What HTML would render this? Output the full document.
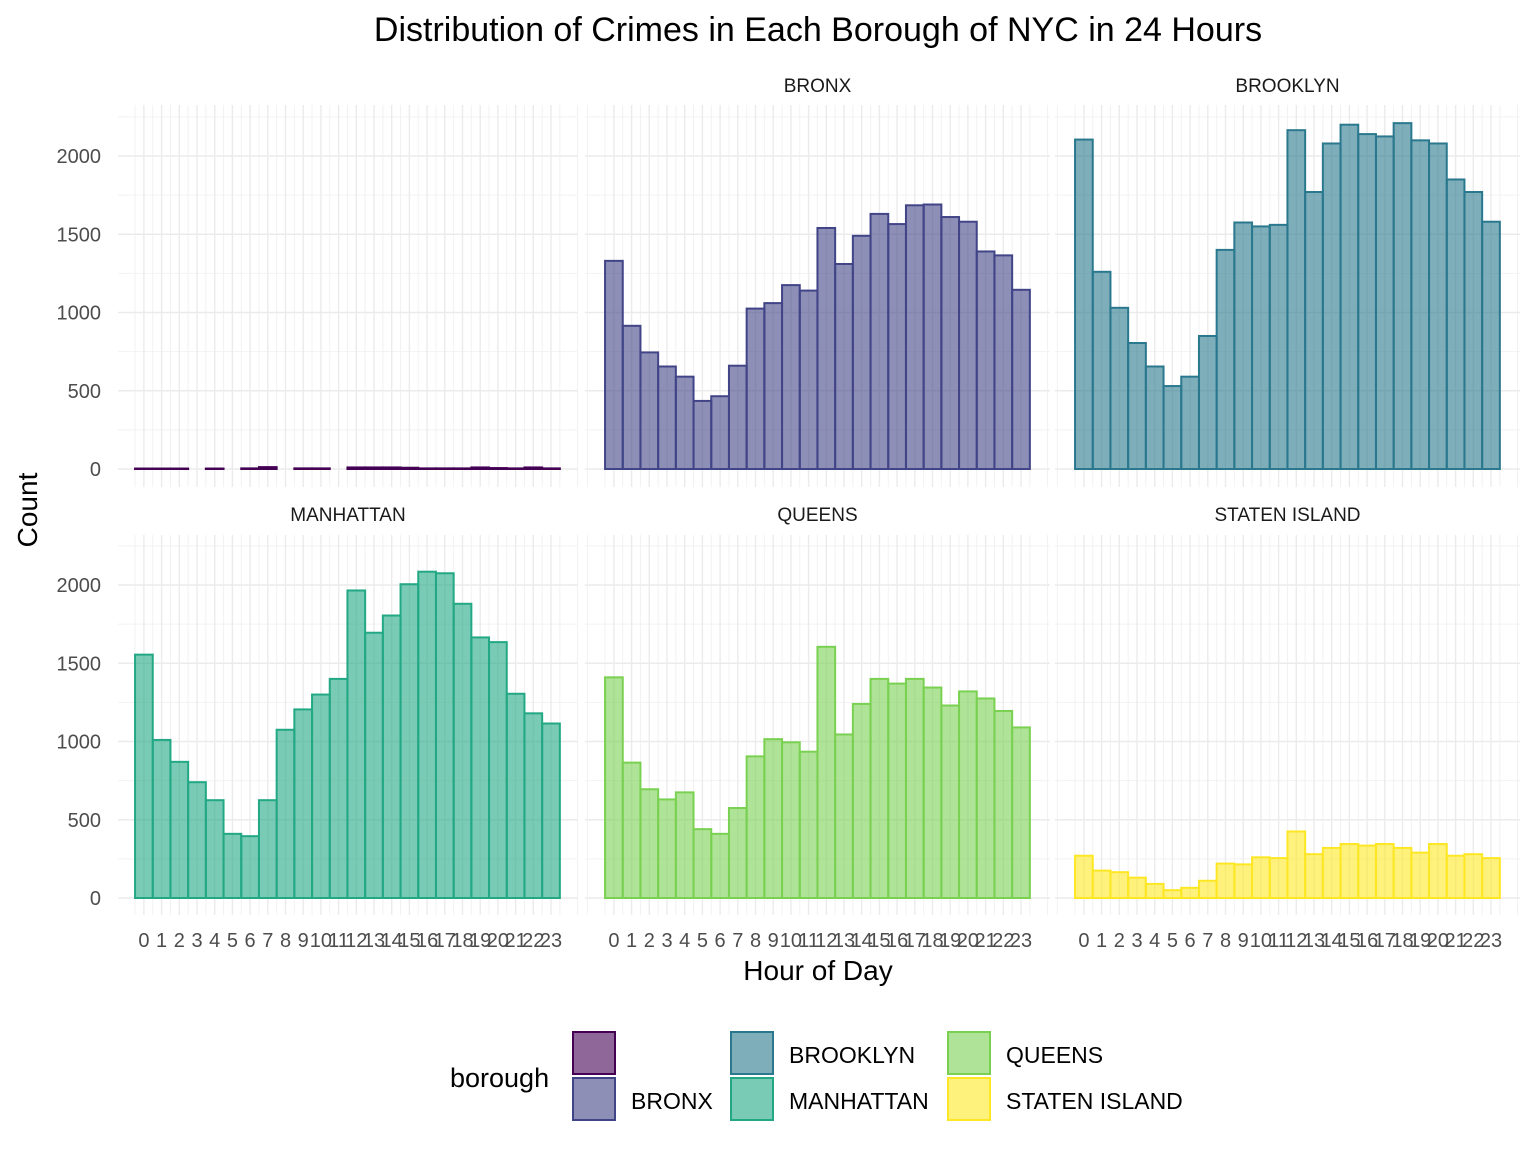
<!DOCTYPE html>
<html><head><meta charset="utf-8"><style>
body{margin:0;background:#fff;}
svg{display:block;font-family:"Liberation Sans",Arial,sans-serif;}
</style></head><body>
<svg id="chart" width="1536" height="1152">
<text x="818" y="41" text-anchor="middle" font-size="34" fill="#000">Distribution of Crimes in Each Borough of NYC in 24 Hours</text>
<text x="818" y="980" text-anchor="middle" font-size="28" fill="#000">Hour of Day</text>
<text transform="translate(37,510) rotate(-90)" text-anchor="middle" font-size="28" fill="#000">Count</text>
<g id="panels"></g>
<g id="legend"></g>
</svg>
<script>
const hours = [0,1,2,3,4,5,6,7,8,9,10,11,12,13,14,15,16,17,18,19,20,21,22,23];
const yTicks = [0,500,1000,1500,2000];
const boroughs = ["", "BRONX", "BROOKLYN", "MANHATTAN", "QUEENS", "STATEN ISLAND"];
const naCounts = [3,3,3,0,3,0,4,12,0,4,4,0,10,10,10,8,4,4,4,10,6,4,10,4];
const bronxCounts = [1330,915,745,655,590,435,465,660,1025,1060,1175,1140,1540,1310,1490,1630,1565,1685,1690,1610,1580,1390,1365,1145];
const brooklynCounts = [2105,1260,1030,805,655,530,590,850,1400,1575,1550,1560,2165,1770,2080,2200,2140,2125,2210,2100,2080,1850,1770,1580];
const manhattanCounts = [1555,1010,870,740,625,410,395,625,1075,1205,1300,1400,1965,1695,1805,2005,2085,2075,1880,1665,1635,1305,1180,1115];
const queensCounts = [1410,865,695,630,675,440,410,575,905,1015,995,935,1605,1045,1240,1400,1370,1400,1345,1230,1320,1275,1195,1090];
const statenCounts = [270,175,165,130,90,50,65,110,220,215,260,255,425,280,320,345,335,345,320,290,345,270,280,255];
const series = [naCounts,bronxCounts,brooklynCounts,manhattanCounts,queensCounts,statenCounts];
const colors = ["#440154","#414487","#2A788E","#22A884","#7AD151","#FDE725"];

const NS="http://www.w3.org/2000/svg";
function mk(tag,attrs,parent){const e=document.createElementNS(NS,tag);for(const k in attrs)e.setAttribute(k,attrs[k]);parent.appendChild(e);return e;}
const panels=document.getElementById('panels');
const panelX=[[118,578],[585,1050],[1055,1520]];
const step=17.7;
const x0s=[143.9,613.9,1083.9];
const rows=[{top:105,bot:487,zero:469},{top:535,bot:915,zero:898}];
const pxPerUnit=(469-156)/2000;
for(let p=0;p<6;p++){
  const c=p%3,r=Math.floor(p/3);
  const [L,R]=panelX[c];const row=rows[r];
  const xs=h=>x0s[c]+h*step;
  const ys=v=>row.zero-v*pxPerUnit;
  const g=mk('g',{},panels);
  
  
  for(let v=250;v<=2250;v+=500){const y=ys(v);if(y>row.top)mk('line',{x1:L,x2:R,y1:y,y2:y,stroke:'#F2F2F2','stroke-width':1},g);}
  for(let h=-1.5;h<=25;h+=1){const x=xs(h);if(x>L&&x<R)mk('line',{x1:x,x2:x,y1:row.top,y2:row.bot,stroke:'#F2F2F2','stroke-width':1},g);}
  yTicks.forEach(v=>{const y=ys(v);mk('line',{x1:L,x2:R,y1:y,y2:y,stroke:'#EBEBEB','stroke-width':1.4},g);});
  hours.forEach(h=>{const x=xs(h);mk('line',{x1:x,x2:x,y1:row.top,y2:row.bot,stroke:'#EBEBEB','stroke-width':1.4},g);});
  if(boroughs[p]){const t=mk('text',{x:(L+R)/2,y:r?521:92,'text-anchor':'middle','font-size':19,fill:'#1A1A1A'},g);t.textContent=boroughs[p];
    }
  series[p].forEach((v,i)=>{
    if(v<=0)return;
    const x=xs(hours[i])-step/2;
    const b=mk('rect',{x:x,y:ys(v),width:step,height:v*pxPerUnit,fill:colors[p],'fill-opacity':0.6,stroke:colors[p],'stroke-width':2},g);
    
    
  });
  if(c===0){yTicks.forEach(v=>{const t=mk('text',{x:101,y:ys(v)+7,'text-anchor':'end','font-size':20,fill:'#4D4D4D'},g);t.textContent=v;
    });}
  if(r===1){hours.forEach(h=>{const t=mk('text',{x:xs(h),y:947,'text-anchor':'middle','font-size':20,fill:'#4D4D4D'},g);t.textContent=h;
    });}
}
const lg=document.getElementById('legend');
const lt=mk('text',{x:450,y:1087,'font-size':27,fill:'#000'},lg);lt.textContent='borough';

const keyPos=[[572,1031],[572,1077],[730,1031],[730,1077],[947,1031],[947,1077]];
boroughs.forEach((b,i)=>{
  const [kx,ky]=keyPos[i];
  const e=mk('g',{},lg);
  
  
  mk('rect',{x:kx+1,y:ky+1,width:42,height:42,fill:colors[i],'fill-opacity':0.6,stroke:colors[i],'stroke-width':2},e);
  const t=mk('text',{x:kx+59,y:ky+32,'font-size':23,fill:'#000'},e);t.textContent=b;
});
</script>
</body></html>
